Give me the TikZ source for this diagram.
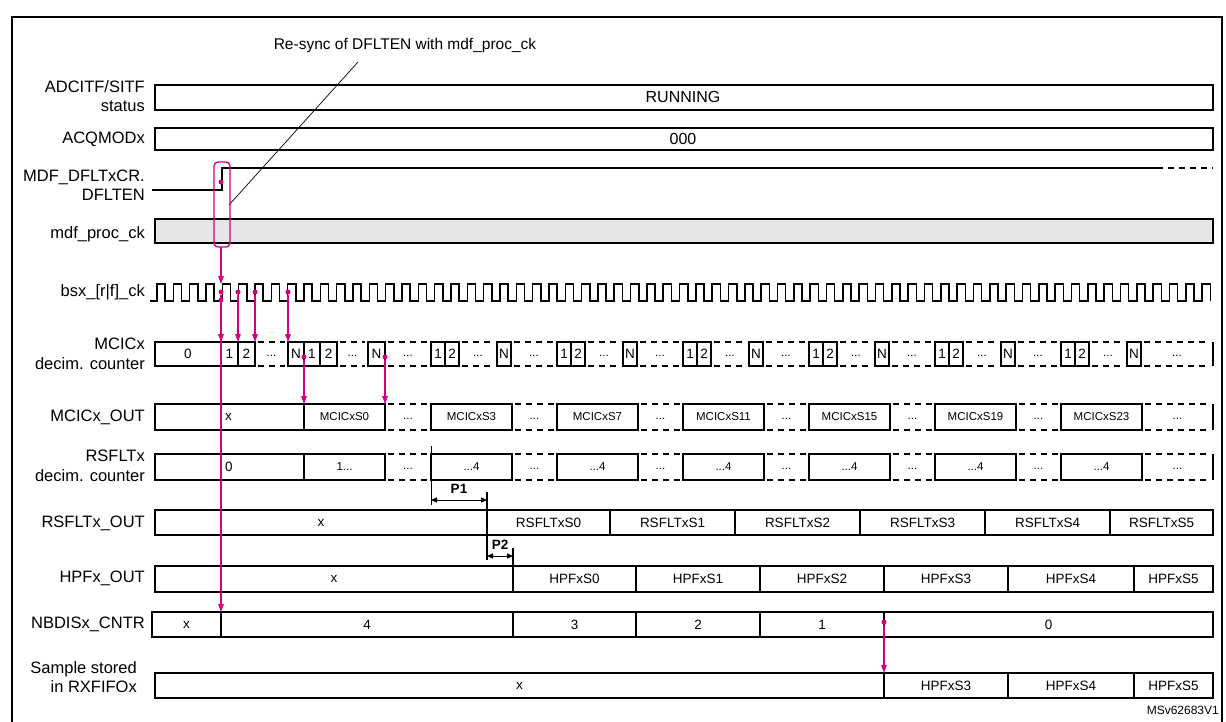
\documentclass[tikz,border=0pt]{standalone}
\usepackage{fontspec}
\setmainfont{Liberation Sans}
\usetikzlibrary{arrows.meta}
\definecolor{pk}{RGB}{214,0,126}
\definecolor{gy}{RGB}{230,230,230}
\tikzset{
 bx/.style={line width=1.5pt, draw=black},
 lbl/.style={anchor=east, font=\fontsize{16.5}{19.5}\selectfont, align=right, inner sep=0},
 txt/.style={font=\fontsize{13.5}{15}\selectfont, inner sep=0},
 sml/.style={font=\fontsize{11.5}{13}\selectfont, inner sep=0},
 big/.style={font=\fontsize{16}{18}\selectfont, inner sep=0},
 dsh/.style={line width=1.5pt, dash pattern=on 6pt off 5pt},
 pkl/.style={draw=pk, line width=1.1pt},
 pka/.style={pkl, -{Triangle[length=8pt,width=5.5pt]}},
 pdot/.style={circle, fill=pk, inner sep=0, minimum size=5pt},
 dim/.style={line width=1pt, {Triangle[length=6pt,width=5pt]}-{Triangle[length=6pt,width=5pt]}},
}
\begin{document}
\begin{tikzpicture}[x=1pt,y=-1pt]
\useasboundingbox (0,0) rectangle (1226,722);
% frame
\draw[line width=2.5pt] (12,740) -- (12,17) -- (1222,17) -- (1222,740);

% labels
\node[lbl] (l1) at (145,96) {ADCITF/SITF\\status};
\node[lbl] (l2) at (145,139) {ACQMODx};
\node[lbl] (l3) at (145,185) {MDF\_DFLTxCR.\\DFLTEN};
\node[lbl] (l4) at (145,234) {mdf\_proc\_ck};
\node[lbl] (l5) at (145,292) {bsx\_[r|f]\_ck};
\node[lbl] (l6) at (145,354) {MCICx\\decim. counter};
\node[lbl] (l7) at (145,417) {MCICx\_OUT};
\node[lbl] (l8) at (145,466) {RSFLTx\\decim. counter};
\node[lbl] (l9) at (145,523) {RSFLTx\_OUT};
\node[lbl] (l10) at (145,578) {HPFx\_OUT};
\node[lbl] (l11) at (145,624) {NBDISx\_CNTR};
\node[lbl] (l12) at (137,677) {Sample stored\\in RXFIFOx};

% status rows
\draw[bx] (155,85) rectangle (1213,110);
\node[big] (run) at (683,97) {RUNNING};
\draw[bx] (155,128) rectangle (1213,150);
\node[big] (acq) at (683,139) {000};

% DFLTEN
\draw[bx] (152,190) -- (222,190) -- (222,168) -- (1163,168);
\draw[dsh] (1168,168) -- (1213,168);

% mdf_proc_ck
\draw[bx, fill=gy] (155,219) rectangle (1213,243);

% annotation
\node[font=\fontsize{15.5}{17}\selectfont, inner sep=0] (ann) at (405,45) {Re-sync of DFLTEN with mdf\_proc\_ck};
\coordinate (annA) at (358,62);
\coordinate (annB) at (229,205);
\draw[line width=0.7pt] (annA) -- (annB);

% pink rect
\draw[pkl, rounded corners=4pt, line width=1.4pt] (214,162) rectangle (230,247);

% clock
\draw[bx] (150,301) \foreach \k in {0,...,64}{ -- ({157+16.33*\k},301) -- ++(0,-17) -- ++(8.2,0) -- ++(0,17)};

% MCICx decim counter (342-366)
\draw[bx] (155,342) rectangle (255,366);
\draw[bx] (221,342) -- (221,366) (238,342) -- (238,366);
\draw[bx] (288,342) rectangle (337,366);
\draw[bx] (304,342) -- (304,366) (320,342) -- (320,366);
\draw[bx] (368,342) rectangle (385,366);
\node[txt] at (188,354) {0};
\node[txt] at (229.5,354) {1};
\node[txt] at (246.5,354) {2};
\node[txt] at (296,354) {N};
\node[txt] at (312,354) {1};
\node[txt] at (328.5,354) {2};
\node[txt] at (376.5,354) {N};
\foreach \a/\b in {255/288, 337/368, 385/431}{
  \draw[dsh] (\a+3,342) -- (\b-3,342) (\a+3,366) -- (\b-3,366);
  \node[sml] at ({(\a+\b)/2},356) {...};
}
\foreach \g/\n in {431/557, 557/683, 683/809, 809/935, 935/1061, 1061/1213}{
  \draw[bx] (\g,342) rectangle ++(28,24);
  \draw[bx] (\g+14,342) -- ++(0,24);
  \draw[bx] (\g+66,342) rectangle ++(14,24);
  \node[txt] at (\g+7,354) {1};
  \node[txt] at (\g+21,354) {2};
  \node[txt] at (\g+73,354) {N};
  \draw[dsh] (\g+31,342) -- (\g+63,342) (\g+31,366) -- (\g+63,366);
  \node[sml] at (\g+47,356) {...};
  \draw[dsh] (\g+83,342) -- (\n-3,342) (\g+83,366) -- (\n-3,366);
  \node[sml] at ({(\g+80+\n)/2},356) {...};
}
\draw[bx] (1213,342) -- (1213,366);

% MCICx_OUT (404-430)
\draw[bx] (155,404) rectangle (385,430);
\draw[bx] (304,404) -- (304,430);
\node[txt, anchor=west] at (225,417) {x};
\node[sml] at (344.5,417) {MCICxS0};
\draw[dsh] (388,404) -- (428,404) (388,430) -- (428,430);
\node[sml] at (408,419) {...};
\foreach \g/\n/\t in {431/557/3, 557/683/7, 683/809/11, 809/935/15, 935/1061/19, 1061/1213/23}{
  \draw[bx] (\g,404) rectangle ++(81,26);
  \node[sml] at (\g+40.5,417) {MCICxS\t};
  \draw[dsh] (\g+84,404) -- (\n-3,404) (\g+84,430) -- (\n-3,430);
  \node[sml] at ({(\g+81+\n)/2},419) {...};
}
\draw[bx] (1213,404) -- (1213,430);

% RSFLTx decim counter (454-480)
\draw[bx] (155,454) rectangle (385,480);
\draw[bx] (304,454) -- (304,480);
\node[txt, anchor=west] at (225,467) {0};
\node[sml] at (344.5,467) {1...};
\draw[dsh] (388,454) -- (428,454) (388,480) -- (428,480);
\node[sml] at (408,469) {...};
\foreach \g/\n in {431/557, 557/683, 683/809, 809/935, 935/1061, 1061/1213}{
  \draw[bx] (\g,454) rectangle ++(81,26);
  \node[sml] at (\g+40.5,467) {...4};
  \draw[dsh] (\g+84,454) -- (\n-3,454) (\g+84,480) -- (\n-3,480);
  \node[sml] at ({(\g+81+\n)/2},469) {...};
}
\draw[bx] (1213,454) -- (1213,480);

% P1
\coordinate (p1a) at (431,446);
\coordinate (p1b) at (431,505);
\draw[line width=0.7pt] (p1a) -- (p1b);
\draw[dim] (431,500) -- (487,500);
\node[font=\fontsize{13.5}{15}\selectfont\bfseries, inner sep=0] (P1) at (459,489) {P1};

% RSFLTx_OUT (510-535)
\draw[bx] (155,510) rectangle (1213,535);
\draw[bx] (487,492) -- (487,560);
\foreach \x in {610,735,860,985,1110}{\draw[bx] (\x,510) -- (\x,535);}
\node[txt] at (321,523) {x};
\foreach \c/\t in {548.5/0, 672.5/1, 797.5/2, 922.5/3, 1047.5/4, 1161.5/5}{
  \node[txt] at (\c,523) {RSFLTxS\t};
}

% P2
\draw[dim] (487,556) -- (513,556);
\node[font=\fontsize{13.5}{15}\selectfont\bfseries, inner sep=0] (P2) at (500,545) {P2};

% HPFx_OUT (566-592)
\draw[bx] (155,566) rectangle (1213,592);
\draw[bx] (513,548) -- (513,592);
\foreach \x in {636,760,884,1008,1134}{\draw[bx] (\x,566) -- (\x,592);}
\node[txt] at (334,579) {x};
\foreach \c/\t in {574.5/0, 698/1, 822/2, 946/3, 1071/4, 1173.5/5}{
  \node[txt] at (\c,579) {HPFxS\t};
}

% NBDISx_CNTR (612-637)
\draw[bx] (152,612) rectangle (1213,637);
\foreach \x in {221,513,636,760,884}{\draw[bx] (\x,612) -- (\x,637);}
\foreach \c/\t in {186.5/x, 367/4, 574.5/3, 698/2, 822/1, 1048.5/0}{
  \node[txt] at (\c,624.5) {\t};
}

% Sample stored (673-698)
\draw[bx] (155,673) rectangle (1213,698);
\foreach \x in {884,1008,1134}{\draw[bx] (\x,673) -- (\x,698);}
\node[txt] at (519.5,685.5) {x};
\foreach \c/\t in {946/3, 1071/4, 1173.5/5}{
  \node[txt] at (\c,685.5) {HPFxS\t};
}

\node[font=\fontsize{12}{14}\selectfont, inner sep=0, anchor=east] (ref) at (1219,710) {MSv62683V1};

% pink markers and arrows
\node[pdot] (dA) at (221,182) {};
\coordinate (rb) at (221,247);
\coordinate (ckA) at (221,284);
\draw[pka] (rb) -- (ckA);
\node[pdot] (e4) at (221,292) {};
\node[pdot] (e4b) at (221,300) {};
\node[pdot] (e5) at (238,292) {};
\node[pdot] (e6) at (255,292) {};
\node[pdot] (e8) at (288,292) {};
\coordinate (c4) at (221,342);
\coordinate (c5) at (238,342);
\coordinate (c6) at (255,342);
\coordinate (c8) at (288,342);
\coordinate (nb) at (221,612);
\draw[pka] (e4) -- (c4);
\draw[pka] (e4b) -- (nb);
\draw[pka] (e5) -- (c5);
\draw[pka] (e6) -- (c6);
\draw[pka] (e8) -- (c8);
\node[pdot] (n1) at (304,357) {};
\node[pdot] (n2) at (385,357) {};
\coordinate (o1) at (304,404);
\coordinate (o2) at (385,404);
\draw[pka] (n1) -- (o1);
\draw[pka] (n2) -- (o2);
\node[pdot] (z0) at (884,622) {};
\coordinate (s3) at (884,673);
\draw[pka] (z0) -- (s3);
\end{tikzpicture}
\end{document}
